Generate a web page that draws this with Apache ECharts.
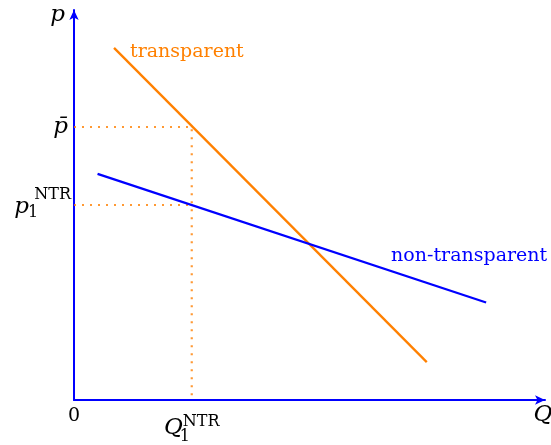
<!DOCTYPE html>
<html>
<head>
<meta charset="utf-8">
<script src="https://cdn.jsdelivr.net/npm/echarts@6/dist/echarts.min.js"></script>
<style>
  html, body { margin: 0; background: #fff; }
  #chart { width: 551px; height: 445px; }
</style>
</head>
<body>
<div id="chart"></div>
<script>
// demand lines (Q, p)
const transparentLine = [[0.85, 9.03], [7.49, 0.97]]
const nonTransparentLine = [[0.5, 5.8], [8.75, 2.5]]
// marked levels
const qNTR = 2.5
const pBar = 7
const pNTR = 5
const guideBar = [[0, pBar], [qNTR, pBar], [qNTR, 0]]
const guideNTR = [[0, pNTR], [qNTR, pNTR]]

const BLUE = '#0000ff'
const ORANGE = '#ff8000'
const SERIF = "'DejaVu Serif', serif"

const chart = echarts.init(document.getElementById('chart'))

const axisCommon = {
  type: 'value',
  min: 0,
  max: 10,
  axisLine: {
    show: true,
    symbol: ['none', 'arrow'],
    symbolSize: [7, 10],
    lineStyle: { color: BLUE, width: 2 }
  },
  axisTick: { show: false },
  axisLabel: { show: false },
  splitLine: { show: false }
}

const guideStyle = { color: ORANGE, width: 2.2, type: [2, 6], opacity: 0.8 }

chart.setOption({
  animation: false,
  grid: { left: 74, right: 6, top: 10, bottom: 45 },
  xAxis: axisCommon,
  yAxis: axisCommon,
  series: [
    { type: 'line', data: guideBar, showSymbol: false, lineStyle: guideStyle, z: 1 },
    { type: 'line', data: guideNTR, showSymbol: false, lineStyle: guideStyle, z: 1 },
    { type: 'line', data: transparentLine, showSymbol: false, lineStyle: { color: ORANGE, width: 2.3 }, z: 3 },
    { type: 'line', data: nonTransparentLine, showSymbol: false, lineStyle: { color: BLUE, width: 2.3 }, z: 3 }
  ]
})

const px = (x, y) => chart.convertToPixel({ gridIndex: 0 }, [x, y])
const txt = (text, x, y, opts) => ({
  type: 'text',
  x, y,
  style: Object.assign({
    text,
    fill: '#000',
    font: 'italic 23px ' + SERIF,
    align: 'center',
    verticalAlign: 'middle'
  }, opts || {})
})

const [x0, y0] = px(0, 0)
const [xEnd] = px(10, 0)
const [, yTop] = px(0, 10)
const [qx] = px(qNTR, 0)
const [, pbY] = px(0, pBar)
const [, pnY] = px(0, pNTR)
const [tx, ty] = px(transparentLine[0][0], transparentLine[0][1])
const [nx, ny] = px(nonTransparentLine[1][0], nonTransparentLine[1][1])
const small = '16px ' + SERIF
const sub = '16px ' + SERIF

chart.setOption({
  graphic: [
    txt('p', x0 - 9, yTop + 5, { align: 'right' }),
    txt('p\u0304', x0 - 6, pbY, { align: 'right' }),
    // p_1^NTR
    txt('p', x0 - 45, pnY + 2, { align: 'right' }),
    txt('1', x0 - 46, pnY + 8, { align: 'left', font: sub }),
    txt('NTR', x0 - 3, pnY - 10, { align: 'right', font: small }),
    txt('0', x0, y0 + 16, { font: '19px ' + SERIF }),
    // Q_1^NTR
    txt('Q', qx - 9, y0 + 28, { align: 'right' }),
    txt('1', qx - 12, y0 + 37, { align: 'left', font: sub }),
    txt('NTR', qx - 9, y0 + 22, { align: 'left', font: small }),
    txt('Q', xEnd - 2, y0 + 15),
    txt('transparent', tx + 16, ty + 4, { align: 'left', fill: ORANGE, font: '19px ' + SERIF }),
    txt('non-transparent', nx - 17, ny - 46, { fill: BLUE, font: '19px ' + SERIF })
  ]
})
</script>
</body>
</html>
